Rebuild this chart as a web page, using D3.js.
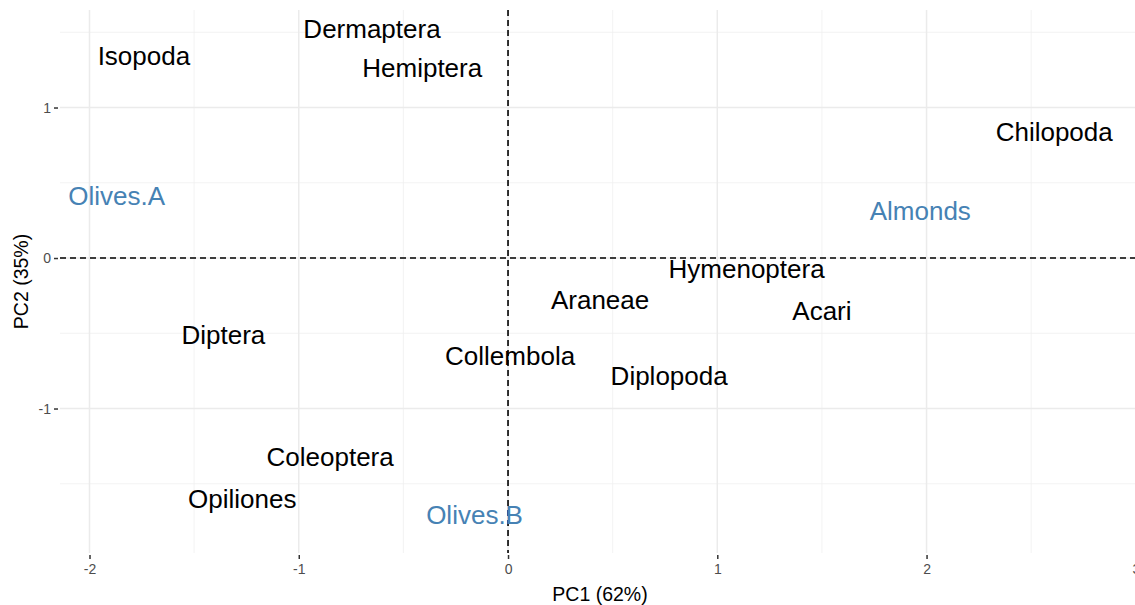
<html>
<head>
  <meta charset="utf-8">
  <style>
    body { margin: 0; background: white; }
  </style>
</head>
<body>
<div id="mydiv"></div>
<script src="https://d3js.org/d3.v7.min.js"></script>
<script>

// species / sites and their PC scores
var labels = ["Isopoda", "Dermaptera", "Hemiptera", "Chilopoda", "Olives.A", "Almonds",
              "Hymenoptera", "Araneae", "Acari", "Diptera", "Collembola", "Diplopoda",
              "Coleoptera", "Opiliones", "Olives.B"];
var pc1 = [-1.74, -0.65, -0.41, 2.61, -1.87, 1.97, 1.14, 0.44, 1.50, -1.36, 0.01, 0.77, -0.85, -1.27, -0.16];
var pc2 = [1.34, 1.52, 1.26, 0.84, 0.41, 0.31, -0.07, -0.28, -0.35, -0.51, -0.65, -0.78, -1.32, -1.60, -1.71];
var isSite = [false, false, false, false, true, true, false, false, false, false, false, false, false, false, true];

var xTicks = [-2, -1, 0, 1, 2, 3];
var yTicks = [-1, 0, 1];
var xMinor = [-1.5, -0.5, 0.5, 1.5, 2.5];
var yMinor = [-1.5, -0.5, 0.5, 1.5];

let width = 1135, height = 605;
let pLeft = 60, pTop = 10, pRight = 1140, pBottom = 553;

let svg = d3.select("#mydiv")
  .append("svg")
    .attr("width", width)
    .attr("height", height)
    .style("display", "block");

var x = d3.scaleLinear()
  .domain([-2.141, 3.02])
  .range([pLeft, pRight]);
var y = d3.scaleLinear()
  .domain([-1.96, 1.648])
  .range([pBottom, pTop]);

let grid = svg.append("g");
// minor grid
grid.selectAll(".vmin").data(xMinor).enter().append("line")
  .attr("x1", d => x(d)).attr("x2", d => x(d))
  .attr("y1", pTop).attr("y2", pBottom)
  .attr("stroke", "#F0F0F0").attr("stroke-width", 0.8);
grid.selectAll(".hmin").data(yMinor).enter().append("line")
  .attr("x1", pLeft).attr("x2", pRight)
  .attr("y1", d => y(d)).attr("y2", d => y(d))
  .attr("stroke", "#F0F0F0").attr("stroke-width", 0.8);
// major grid
grid.selectAll(".vmaj").data(xTicks).enter().append("line")
  .attr("x1", d => x(d)).attr("x2", d => x(d))
  .attr("y1", pTop).attr("y2", pBottom)
  .attr("stroke", "#EBEBEB").attr("stroke-width", 1.5);
grid.selectAll(".hmaj").data(yTicks).enter().append("line")
  .attr("x1", pLeft).attr("x2", pRight)
  .attr("y1", d => y(d)).attr("y2", d => y(d))
  .attr("stroke", "#EBEBEB").attr("stroke-width", 1.5);

// axes
let fmt = d => d3.format("d")(d).replace("−", "-");
let xAxis = svg.append("g")
  .attr("transform", "translate(0," + (pBottom + 2) + ")")
  .call(d3.axisBottom(x).tickValues(xTicks).tickSize(4).tickPadding(5).tickFormat(fmt));
let yAxis = svg.append("g")
  .attr("transform", "translate(" + (pLeft - 2) + ",0)")
  .call(d3.axisLeft(y).tickValues(yTicks).tickSize(4).tickPadding(3).tickFormat(fmt));
[xAxis, yAxis].forEach(a => {
  a.select(".domain").remove();
  a.selectAll(".tick line").attr("stroke", "#333").attr("stroke-width", 1.5);
  a.selectAll(".tick text")
    .attr("fill", "#4D4D4D")
    .style("font-size", "14px")
    .style("font-family", "Liberation Sans, Arial, sans-serif");
});

// reference lines
svg.append("line")
  .attr("x1", x(0)).attr("x2", x(0))
  .attr("y1", pTop).attr("y2", pBottom)
  .attr("stroke", "black").attr("stroke-width", 1.6)
  .attr("stroke-dasharray", "6,4");
svg.append("line")
  .attr("x1", pLeft).attr("x2", pRight)
  .attr("y1", y(0)).attr("y2", y(0))
  .attr("stroke", "black").attr("stroke-width", 1.6)
  .attr("stroke-dasharray", "6,4");

// point labels
svg.append("g")
  .selectAll("text")
  .data(labels)
  .enter()
  .append("text")
  .attr("x", (d, i) => x(pc1[i]))
  .attr("y", (d, i) => y(pc2[i]))
  .attr("text-anchor", "middle")
  .attr("dy", "0.35em")
  .attr("fill", (d, i) => isSite[i] ? "#4682B4" : "black")
  .style("font-size", "26px")
  .style("font-family", "Liberation Sans, Arial, sans-serif")
  .text(d => d);

// axis titles
svg.append("text")
  .attr("x", (pLeft + pRight) / 2)
  .attr("y", 601)
  .attr("text-anchor", "middle")
  .style("font-size", "19.5px")
  .style("font-family", "Liberation Sans, Arial, sans-serif")
  .text("PC1 (62%)");
svg.append("text")
  .attr("transform", "translate(28," + ((pTop + pBottom) / 2) + ") rotate(-90)")
  .attr("text-anchor", "middle")
  .style("font-size", "19.5px")
  .style("font-family", "Liberation Sans, Arial, sans-serif")
  .text("PC2 (35%)");

</script>
</body>
</html>
